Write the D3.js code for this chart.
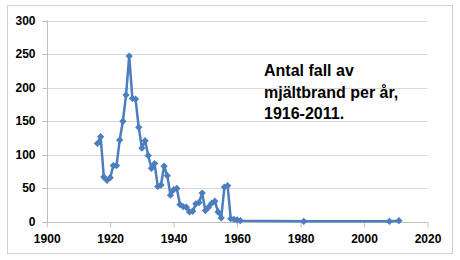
<!DOCTYPE html>
<html><head><meta charset="utf-8">
<script src="https://cdn.jsdelivr.net/npm/d3@7"></script>
<style>
html,body{margin:0;padding:0;background:#fff;}
svg{display:block;}
</style></head>
<body>
<script>
const years = [1916,1917,1918,1919,1920,1921,1922,1923,1924,1925,1926,1927,1928,1929,1930,1931,1932,1933,1934,1935,1936,1937,1938,1939,1940,1941,1942,1943,1944,1945,1946,1947,1948,1949,1950,1951,1952,1953,1954,1955,1956,1957,1958,1959,1960,1961,1981,2008,2011];
const cases = [117,127,67,62,66,84,84,122,150,189,247,184,183,141,110,121,99,80,87,53,55,83,69,40,48,50,26,23,22,15,16,27,29,43,17,22,28,31,15,6,52,54,5,4,3,2,1,1,2];
const xTicks = [1900,1920,1940,1960,1980,2000,2020];
const yTicks = [0,50,100,150,200,250,300];
const titleLines = ["Antal fall av","mjältbrand per år,","1916-2011."];

const W=460,H=260;
const svg=d3.select("body").append("svg").attr("width",W).attr("height",H);
svg.append("rect").attr("x",7.5).attr("y",5.5).attr("width",445).attr("height",248)
  .attr("fill","#fff").attr("stroke","#d0d0d0").attr("stroke-width",1);

const x=d3.scaleLinear().domain([1900,2020]).range([46.7,427.5]);
const y=d3.scaleLinear().domain([0,300]).range([222,20.5]);

const g=svg.append("g");
// gridlines
g.selectAll("line.grid").data(yTicks.filter(d=>d>0)).join("line")
 .attr("x1",x(1900)).attr("x2",x(2020))
 .attr("y1",d=>Math.round(y(d))+0.5).attr("y2",d=>Math.round(y(d))+0.5)
 .attr("stroke","#d9d9d9").attr("stroke-width",1);

const font="'Liberation Sans', Arial, sans-serif";
// y axis
const ya=svg.append("g").attr("transform",`translate(${Math.round(x(1900))+0.5},0)`)
 .call(d3.axisLeft(y).tickValues(yTicks).tickSize(5).tickPadding(7));
ya.select(".domain").attr("stroke","#bfbfbf").attr("d",`M0,${y(300)}V${y(0)}`);
ya.selectAll(".tick line").attr("stroke","#bfbfbf");
ya.selectAll("text").attr("font-family",font).attr("font-weight","bold").attr("font-size","12px").attr("fill","#000");
ya.selectAll(".tick").attr("transform",d=>`translate(0,${Math.round(y(d))+0.5})`);

// x axis
const xa=svg.append("g").attr("transform",`translate(0,${Math.round(y(0))+0.5})`)
 .call(d3.axisBottom(x).tickValues(xTicks).tickFormat(d3.format("d")).tickSize(5).tickPadding(7));
xa.select(".domain").attr("stroke","#bfbfbf").attr("d",`M${x(1900)},0H${x(2020)}`);
xa.selectAll(".tick line").attr("stroke","#bfbfbf");
xa.selectAll("text").attr("font-family",font).attr("font-weight","bold").attr("font-size","12px").attr("fill","#000");

const data=years.map((d,i)=>({yr:d,v:cases[i]}));
const color="#4a7ebf";
svg.append("path").datum(data)
 .attr("d",d3.line().x(d=>x(d.yr)).y(d=>y(d.v)))
 .attr("fill","none").attr("stroke",color).attr("stroke-width",2.5).attr("stroke-linejoin","round");
svg.selectAll("path.m").data(data).join("path").attr("class","m")
 .attr("d",d3.symbol(d3.symbolDiamond2,34)())
 .attr("transform",d=>`translate(${x(d.yr)},${y(d.v)})`)
 .attr("fill",color);

const t=svg.append("text").attr("font-family",font).attr("font-weight","bold").attr("font-size","16px").attr("fill","#000");
t.selectAll("tspan").data(titleLines).join("tspan").attr("x",264).attr("y",(d,i)=>76+i*21.7).text(d=>d);
</script>
</body></html>
